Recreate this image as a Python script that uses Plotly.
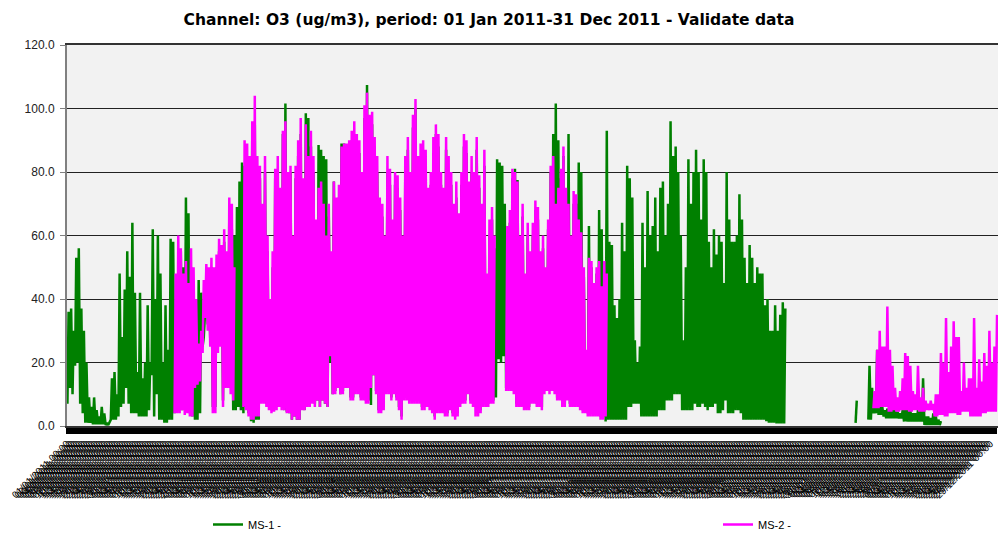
import datetime
import plotly.graph_objects as go

N = None

# Daily high / low of hourly O3 (ug/m3) (None = no data)
ms1_high = [
    36, 37, 30, 53, 56, 37, 30, 20, 9, 6,
    9, 5, 3, 6, 4, 1, 1, 15, 17, 10,
    48, 28, 43, 55, 47, 64, 42, 17, 42, 15,
    20, 38, 20, 62, 40, 60, 48, 20, 38, 24,
    59, 58, 20, 30, 55, 50, 72, 67, 50, 45,
    40, 46, 42, 28, 44, 47, 50, 46, 50, 55,
    52, 58, 52, 66, 62, 60, 69, 77, 83, 82,
    80, 82, 90, 95, 80, 78, 66, 80, 55, 38,
    50, 78, 80, 72, 92, 101.6, 78, 80, 55, 78,
    85, 92, 75, 98.5, 97, 88, 80, 62, 88.5, 87,
    85, 84, 66, 52, 77, 70, 72, 89, 89, 85,
    86, 90, 92, 88, 86, 76, 97, 107.4, 94, 95,
    88, 80, 68, 66, 56, 80, 76, 62, 76, 75,
    68, 56, 80, 87, 76, 94, 100, 80, 85, 86,
    82, 70, 76, 86, 92, 88, 76, 70, 87, 80,
    76, 66, 72, 63, 76, 88, 86, 72, 80, 76,
    87, 75, 66, 82, 45, 60, 65, 56, 84, 83,
    82, 70, 60, 64, 78, 81, 77.5, 56, 66, 46,
    60, 52, 60, 68, 65, 52, 56, 47, 62, 80,
    92, 101.6, 90, 78, 85, 72, 92, 58, 70, 70,
    83, 80, 47, 22, 63, 50, 43, 48, 68, 62,
    50, 93, 58, 57, 38, 34, 40, 64, 55, 82,
    78, 72, 27, 20, 25, 64, 50, 74, 60, 63,
    72, 55, 75, 77, 60, 70, 96, 85, 88, 80,
    60, 27, 50, 84, 70, 80, 87, 80, 65, 84,
    80, 58, 50, 62, 54, 60, 58, 45, 80, 65,
    58, 58, 60, 73, 65, 53, 45, 57, 53, 45,
    50, 48, 48, 38, 40, 30, 30, 38, 30, 35,
    39, 37,
    N, N, N, N, N, N, N, N, N, N, N, N, N, N, N, N, N, N, N, N, N, N, N, N, N, N, N,
    8,
    N, N, N, N,
    19, 12, 6, 24, 6, 6, 5, 5.5, 5, 6,
    5, 4.5, 4, 5, 10, 6, 5, 4, 4, 5,
    8, 15, 3, 3, 2.5, 4, 3, 2, 1.5,
    N, N, N, N, N, N, N, N, N, N, N, N, N, N, N, N, N, N, N, N, N, N,
]

ms1_low = [
    7, 12, 10, 19, 20, 7, 4, 1, 1, 1,
    0.5, 0.5, 0.5, 0.5, 0.5, 0.3, 0.3, 2, 2, 2,
    3, 6, 7, 12, 7, 4, 4, 4, 3, 3,
    3, 3, 5, 16, 3, 10, 2, 2, 1, 1,
    2, 2, 4, 6, 8, 5, 10, 8, 4, 3,
    2, 2, 4, 25, 36, 32, 27, 6, 6, 25,
    27, 8, 14, 14, 12, 5, 5, 6, 5, 4,
    6, 4, 1.5, 1, 2, 2, 8, 8, 7, 6,
    5, 5, 6, 7, 6, 5, 4.5, 4, 2, 3,
    2, 2, 6, 5, 7, 7, 8, 7, 8, 6,
    8, 7, 6, 20, 10, 11, 12, 10, 11, 12,
    13, 9, 9, 11, 11, 9, 9, 8, 8, 6.6,
    16, 11, 5, 5, 6, 11, 11, 9, 11, 9,
    6, 3, 9, 9, 8, 8, 8, 8, 8, 6,
    6, 7, 6, 5, 3, 5, 5, 5, 4, 4,
    6, 4, 3, 4, 7, 8, 8, 11, 8, 7,
    15, 20, 5, 7, 7, 7, 8, 8, 9, 21,
    20, 22, 12, 12, 12, 11, 7, 7, 7, 15,
    6, 6, 8, 8, 7, 7, 6, 11, 12, 11,
    12, 11, 9, 13, 7, 7, 9, 7, 7, 7,
    7, 6, 5, 5, 4, 4, 4, 4, 4, 3,
    3, 1.4, 2, 2, 2, 2, 2, 2, 2, 2,
    6, 6, 7, 7, 7, 3, 3, 3, 3, 3,
    3, 3, 5, 5, 5, 8, 8, 8, 10, 10,
    10, 5, 5, 5, 5, 5, 7, 6, 6, 7,
    6, 5, 6, 6, 7, 4, 4, 5, 8, 4,
    4, 4, 5, 5, 4, 2, 2, 2, 2, 2,
    2, 2, 2, 2, 1.5, 1, 1, 1, 0.8, 0.8,
    0.8, 0.8,
    N, N, N, N, N, N, N, N, N, N, N, N, N, N, N, N, N, N, N, N, N, N, N, N, N, N, N,
    1,
    N, N, N, N,
    2, 2, 4, 4, 3.5, 3.5, 3, 2.4, 2.4, 2.4,
    2.4, 2.4, 2.4, 2.4, 1.4, 1.4, 1.4, 1.4, 1.4, 1.4,
    1.4, 1.4, 0.3, 0.3, 0.3, 0.3, 0.3, 0.3, 0.3,
    N, N, N, N, N, N, N, N, N, N, N, N, N, N, N, N, N, N, N, N, N, N,
]

ms2_high = [
    N, N, N, N, N, N, N, N, N, N, N, N, N, N, N, N, N, N, N, N, N,
    N, N, N, N, N, N, N, N, N, N, N, N, N, N, N, N, N, N, N, N, N,
    48, 60, 56, 48, 52, 45, 56, 50,
    40, 26, 30, 46, 51, 50, 53, 50, 54, 59,
    57, 62, 55, 72, 70, 50, N, N, N, 90,
    89, 85, 96, 104, 85, 82, 70, 85, 60, 40,
    55, 81, 85, 75, 93, 96, 80, 82, 60, 82,
    90, 97, 78, 95, 85, 93, 85, 65, 75, 77,
    70, 60, 70, 55, 77, 72, 76, 88, 89, 89,
    90, 93, 96, 92, 90, 80, 101, 105, 98, 99,
    91, 85, 72, 70, 60, 85, 81, 65, 80, 79,
    72, 60, 85, 91, 80, 98, 103, 85, 89, 90,
    87, 75, 80, 91, 95, 92, 80, 75, 91, 85,
    80, 70, 77, 67, 80, 92, 90, 77, 85, 80,
    91, 79, 70, 87, 48, 65, 69, 60, N, N,
    N, N, 63, 68, 81, 80, 77, 60, 70, 48,
    64, 55, 64, 71, 69, 55, 60, 50, 65, 82,
    85, 70, 75, 81, 88, 75, 70, 60, 74, 73,
    65, 61, 50, 24, 53, 52, 45, 50, 52, 44,
    52, 48,
] + [N] * 104 + [
    11, 24, 30, 25,
    25, 37.6, 24, 19, 12, 9, 11, 15, 23, 22,
    19, 11, 10, 19, 9, 12, 8, 7, 8, 7,
    10, 10, 23, 20, 34, 17, 25, 33, 28, 28,
    11, 20, 12, 15, 15, 34, 12, 21, 14, 23,
    19, 30, 20, 25, 35,
]

ms2_low = [
    N, N, N, N, N, N, N, N, N, N, N, N, N, N, N, N, N, N, N, N, N,
    N, N, N, N, N, N, N, N, N, N, N, N, N, N, N, N, N, N, N, N, N,
    4, 4, 4, 5, 3.5, 4, 3, 3,
    12, 13, 14, 23, 34, 30, 25, 4, 4, 23,
    25, 6, 12, 12, 10, 8, N, N, N, 6,
    5, 3, 2, 2, 3, 3, 7, 7, 6, 5,
    4, 4.5, 5, 6, 5, 5, 4, 4, 2, 3,
    2, 2, 5, 5, 6, 6, 7, 6, 8, 6,
    8, 7, 6, 22, 10, 10, 12, 10, 10, 12,
    12, 8, 8, 10, 10, 8, 8, 7, 7, 12,
    16, 10, 4, 4, 5, 10, 10, 8, 10, 8,
    5, 2, 8, 8, 7, 7, 7, 7, 7, 5,
    5, 6, 5, 4, 2, 4, 4, 4, 3, 3,
    5, 3, 2, 3, 6, 7, 7, 10, 7, 6,
    3, 3, 4, 6, 6, 6, 7, 7, N, N,
    N, N, 11, 11, 11, 10, 6, 6, 6, 5,
    5, 5, 7, 7, 6, 6, 5, 10, 11, 10,
    11, 10, 8, 8, 6, 6, 8, 6, 6, 6,
    6, 5, 4, 4, 3, 3, 3, 3, 3, 2,
    2, 3,
] + [N] * 104 + [
    5.6, 5.6, 5.6, 6,
    6, 6, 4.5, 4.5, 5, 4.5, 4.5, 5, 5, 5,
    4.5, 4.5, 5, 5, 4.5, 4.5, 4.5, 5, 5, 5,
    3, 3, 3.5, 3.5, 3, 3, 4, 4, 4, 3.5,
    3.5, 4.5, 4.5, 4.5, 3, 3, 3, 3, 3, 4,
    4, 4.5, 4.5, 4.5, 4.5,
]

y_ticks = [0, 20, 40, 60, 80, 100, 120]
start = datetime.date(2011, 1, 1)
day_labels = [(start + datetime.timedelta(days=d)).strftime("%d/%m/%Y 00:00") for d in range(365)]
day_hours = [d * 24 for d in range(365)]


def series_xy(high, low):
    xs, ys = [], []
    for d in range(365):
        xs += [d * 24 + 4, d * 24 + 15]
        ys += [low[d], high[d]]
    return xs, ys


x1, y1 = series_xy(ms1_high, ms1_low)
x2, y2 = series_xy(ms2_high, ms2_low)

fig = go.Figure()
fig.add_trace(go.Scatter(x=x1, y=y1, mode="lines", name="MS-1 -", legend="legend",
                         line=dict(color="#008000", width=2.5), connectgaps=False))
fig.add_trace(go.Scatter(x=x2, y=y2, mode="lines", name="MS-2 -", legend="legend2",
                         line=dict(color="#ff00ff", width=2.5), connectgaps=False))

W, H = 998, 535
legend_common = dict(orientation="h", xref="container", yref="container",
                     xanchor="left", yanchor="top",
                     font=dict(family="Arial", size=11, color="black"),
                     bgcolor="rgba(0,0,0,0)")
fig.update_layout(
    width=W, height=H,
    margin=dict(l=67, r=0, t=45, b=109),
    paper_bgcolor="white",
    plot_bgcolor="#f2f2f2",
    title=dict(text="<b>Channel: O3 (ug/m3), period: 01 Jan 2011-31 Dec 2011 - Validate data</b>",
               x=489 / W, xanchor="center", y=1 - 20 / H, yanchor="middle",
               font=dict(family="DejaVu Sans", size=15.5, color="black")),
    showlegend=True,
    legend=dict(x=208 / W, y=1 - 510 / H, **legend_common),
    legend2=dict(x=718 / W, y=1 - 510 / H, **legend_common),
)

fig.update_yaxes(range=[0, 120], tickvals=y_ticks, tickformat=".1f",
                 showgrid=True, gridcolor="#222222", gridwidth=1,
                 zeroline=False, showline=True, linecolor="#808080", linewidth=2,
                 ticks="outside", ticklen=5, tickcolor="#808080",
                 ticklabelstandoff=3,
                 tickfont=dict(family="Arial", size=12, color="#222222"),
                 automargin=False)
fig.update_xaxes(range=[0, 8760], tickmode="array", tickvals=day_hours, ticktext=day_labels,
                 tickangle=-45, showgrid=False, zeroline=False,
                 showline=True, linecolor="#333333", linewidth=2, mirror=True,
                 ticks="outside", ticklen=6, tickwidth=3, tickcolor="black",
                 tickfont=dict(family="Arial", size=10, color="black"),
                 automargin=False)

# remove the default page margin so the 998x535 figure fills the window
post = ("document.body.style.margin='0px';document.body.style.overflow='hidden';"
        "var gd=document.getElementById('{plot_id}');"
        "Plotly.relayout(gd,{width:%d,height:%d});" % (W, H))
fig.write_html("out.html", post_script=post, config={"displayModeBar": False})
